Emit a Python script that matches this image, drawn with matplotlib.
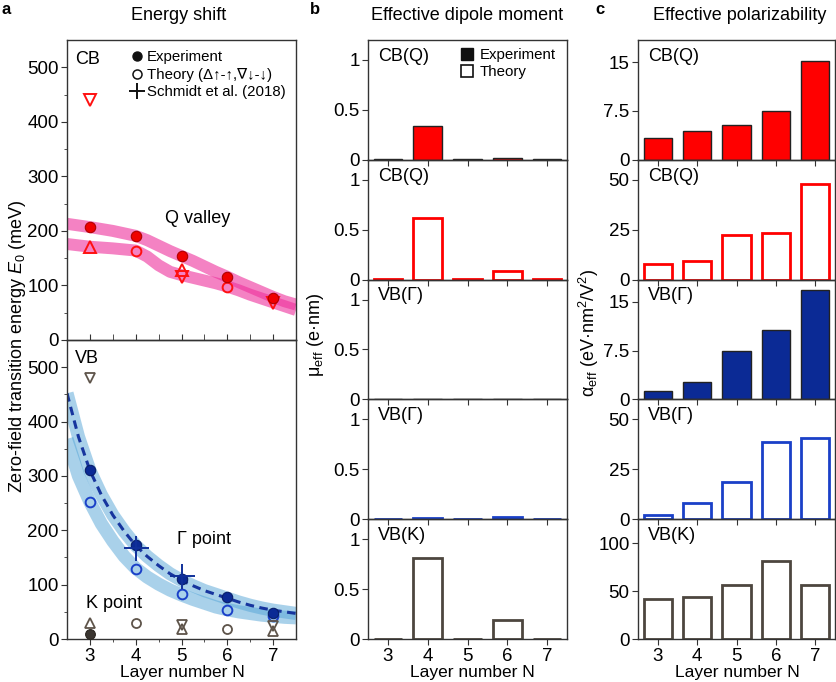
import matplotlib
matplotlib.use('Agg')
import matplotlib.pyplot as plt
from matplotlib.lines import Line2D

plt.rcParams['font.family'] = ['Liberation Sans', 'DejaVu Sans']
plt.rcParams['mathtext.fontset'] = 'custom'
plt.rcParams['mathtext.rm'] = 'Liberation Sans'
plt.rcParams['mathtext.it'] = 'Liberation Sans:italic'
plt.rcParams['mathtext.bf'] = 'Liberation Sans:bold'

# ---------------- data ----------------
layers = [3, 4, 5, 6, 7]

# panel a, conduction band (Q valley)
cb_exp = [207, 190, 154, 116, 77]
cb_th_circ_N = [4, 6]
cb_th_circ = [163, 98]
cb_th_up_N = [3, 5]
cb_th_up = [170, 128]
cb_th_dn_N = [3, 5, 7]
cb_th_dn = [440, 115, 68]
cb_guide_N = [2.5, 3.0, 3.5, 4.0, 4.25, 4.5, 4.75, 5.0, 5.25, 5.5, 5.75, 6.0, 6.25, 6.5, 6.75, 7.0, 7.25, 7.5]
cb_guide_exp = [213, 207, 200, 191, 183, 173, 163, 154, 145, 135, 125, 116, 106, 97, 88, 79, 71, 65]
cb_guide_th = [176, 171, 168, 164, 153, 137, 125, 119, 114, 109, 104, 98, 91, 83, 76, 69, 62, 55]

# panel a, valence band (Gamma point)
vb_exp = [310, 172, 110, 78, 48]
vb_th = [252, 128, 82, 54, 42]
schmidt_N = [4, 5]
schmidt = [168, 116]
vb_guide_N = [2.5, 2.75, 3.0, 3.25, 3.5, 3.75, 4.0, 4.25, 4.5, 4.75, 5.0, 5.25, 5.5, 5.75, 6.0, 6.25, 6.5, 6.75, 7.0, 7.25, 7.5]
vb_guide_exp = [452, 372, 310, 265, 228, 198, 172, 152, 135, 120, 108, 98, 89, 82, 75, 68, 62, 57, 53, 50, 47]
vb_guide_th = [368, 300, 252, 212, 180, 152, 130, 114, 101, 90, 81, 73, 66, 59, 54, 50, 47, 44, 42, 40, 39]

# panel a, valence band (K point)
k_exp_N = [3]
k_exp = [10]
k_circ_N = [4, 6]
k_circ = [30, 19]
k_up_N = [3, 5, 7]
k_up = [29, 18, 15]
k_dn_N = [3, 5, 7]
k_dn = [480, 26, 24]

# panel b: effective dipole moment (e nm)
mu_cbq_exp = [0.005, 0.34, 0.005, 0.02, 0.005]
mu_cbq_th = [0.005, 0.62, 0.005, 0.09, 0.005]
mu_vbg_exp = [0.004, 0.004, 0.004, 0.004, 0.004]
mu_vbg_th = [0.005, 0.015, 0.005, 0.025, 0.005]
mu_vbk_th = [0.005, 0.81, 0.005, 0.19, 0.005]

# panel c: effective polarizability (eV nm^2/V^2)
al_cbq_exp = [3.4, 4.5, 5.3, 7.5, 15.2]
al_cbq_th = [8.0, 9.5, 22.5, 23.5, 48.0]
al_vbg_exp = [1.3, 2.7, 7.4, 10.6, 16.8]
al_vbg_th = [2.0, 8.0, 18.5, 38.5, 40.5]
al_vbk_th = [42, 44, 56, 81, 56]

# ---------------- styling ----------------
RED = '#ff0000'
NAVY = '#0b2a95'
BLUE = '#1a40c8'
KCOL = '#5e544a'
SPINE = '#333333'
TICK_FS = 13.5
LAB_FS = 13
XLAB_FS = 12.5
TXT_FS = 13
XPAD = 2.2

W, H = 836, 682
fig = plt.figure(figsize=(W / 100, H / 100), dpi=100)


def rect(l, t, w, h):
    return [l / W, 1 - (t + h) / H, w / W, h / H]


def style_axes(ax):
    ax.patch.set_visible(False)
    for s in ax.spines.values():
        s.set_color(SPINE)
        s.set_linewidth(1.0)


# ---------------- panel a ----------------
axCB = fig.add_axes(rect(67, 40, 229, 300))
axVB = fig.add_axes(rect(67, 340, 229, 299))
for ax in (axCB, axVB):
    ax.set_xlim(2.5, 7.5)
    ax.set_ylim(0, 550)
    ax.set_yticks([0, 100, 200, 300, 400, 500])
    ax.set_yticks([50, 150, 250, 350, 450], minor=True)
    ax.set_xticks(layers)
    ax.set_xticks([3.5, 4.5, 5.5, 6.5], minor=True)
    ax.tick_params(axis='y', which='major', direction='out', length=4, labelsize=TICK_FS,
                   color=SPINE, pad=2)
    ax.tick_params(axis='y', which='minor', direction='out', length=2.5, color=SPINE)
    style_axes(ax)

axCB.tick_params(axis='x', which='both', direction='in', length=4, labelbottom=False, color=SPINE)
axVB.tick_params(axis='x', which='major', direction='out', length=4, labelsize=TICK_FS,
                 color=SPINE, pad=XPAD)
axVB.tick_params(axis='x', which='minor', direction='out', length=2.5, color=SPINE)

# CB guides
axCB.plot(cb_guide_N, cb_guide_exp, color='#ee2f9b', alpha=0.6, lw=8.6,
          solid_capstyle='butt', zorder=1)
axCB.plot(cb_guide_N, cb_guide_th, color='#ee2f9b', alpha=0.6, lw=8.6,
          solid_capstyle='butt', zorder=1)
axCB.plot(layers, cb_exp, 'o', ms=7.5, mfc='#f00000', mec='#b00000', mew=0.8, zorder=4)
axCB.plot(cb_th_circ_N, cb_th_circ, 'o', ms=7, mfc='none', mec='#ff1010', mew=1.4, zorder=3)
axCB.plot(cb_th_up_N, cb_th_up, '^', ms=8, mfc='none', mec='#ff1010', mew=1.4, zorder=3)
axCB.plot(cb_th_dn_N, cb_th_dn, 'v', ms=8, mfc='none', mec='#ff1010', mew=1.4, zorder=3)

axCB.text(0.035, 0.965, 'CB', transform=axCB.transAxes, ha='left', va='top', fontsize=TXT_FS)
axCB.text(5.36, 223, 'Q valley', ha='center', va='center', fontsize=TXT_FS)

leg_handles = [
    Line2D([], [], ls='none', marker='o', ms=6.5, mfc='#111111', mec='#111111'),
    Line2D([], [], ls='none', marker='o', ms=6.5, mfc='none', mec='#111111', mew=1.1),
    Line2D([], [], ls='none', marker='+', ms=11, mec='#111111', mew=1.4),
]
leg_labels = ['Experiment', 'Theory (Δ↑-↑,∇↓-↓)', 'Schmidt et al. (2018)']
axCB.legend(leg_handles, leg_labels, loc='upper left', bbox_to_anchor=(0.266, 0.975),
            frameon=False, fontsize=10.8, handlelength=0.8, handletextpad=0.28,
            labelspacing=0.22, borderaxespad=0, borderpad=0.2)

# VB guides
axVB.plot(vb_guide_N, vb_guide_exp, color='#55a5d7', alpha=0.5, lw=9.5,
          solid_capstyle='butt', zorder=1)
axVB.plot(vb_guide_N, vb_guide_th, color='#55a5d7', alpha=0.5, lw=9.5,
          solid_capstyle='butt', zorder=1)
axVB.plot(vb_guide_N, vb_guide_exp, color='#17359e', lw=2.2, ls=(0, (2.8, 1.8)), zorder=2)
axVB.plot(layers, vb_th, 'o', ms=7, mfc='none', mec=BLUE, mew=1.4, zorder=3)
axVB.plot(layers, vb_exp, 'o', ms=7.5, mfc=NAVY, mec='#081e6a', mew=0.8, zorder=4)
axVB.plot(schmidt_N, schmidt, '+', ms=18, mec='#10309a', mew=1.4, zorder=5)

axVB.plot(k_exp_N, k_exp, 'o', ms=7, mfc='#3a3530', mec='#2a2520', mew=0.8, zorder=4)
axVB.plot(k_circ_N, k_circ, 'o', ms=6.5, mfc='none', mec=KCOL, mew=1.3, zorder=3)
axVB.plot(k_up_N, k_up, '^', ms=7.5, mfc='none', mec=KCOL, mew=1.3, zorder=3)
axVB.plot(k_dn_N, k_dn, 'v', ms=7.5, mfc='none', mec=KCOL, mew=1.3, zorder=3)

axVB.text(0.035, 0.965, 'VB', transform=axVB.transAxes, ha='left', va='top', fontsize=TXT_FS)
axVB.text(5.5, 183, 'Γ point', ha='center', va='center', fontsize=TXT_FS)
axVB.text(3.53, 66, 'K point', ha='center', va='center', fontsize=TXT_FS)


# ---------------- panels b and c ----------------
def bar_column(left, width, specs):
    top0 = 40
    h = 599 / 5
    axes = []
    for i, (vals, fc, ec, lw, ymax, yt, ytl, label) in enumerate(specs):
        ax = fig.add_axes(rect(left, top0 + i * h, width, h))
        ax.bar(layers, vals, width=0.72, color=fc, edgecolor=ec, linewidth=lw, zorder=2)
        ax.set_xlim(2.5, 7.5)
        ax.set_ylim(0, ymax)
        ax.set_yticks(yt)
        ax.set_yticklabels(ytl)
        ax.set_xticks(layers)
        ax.tick_params(axis='y', direction='out', length=4, labelsize=TICK_FS, color=SPINE, pad=2)
        last = (i == len(specs) - 1)
        ax.tick_params(axis='x', direction='out', bottom=True, top=False, labelbottom=last,
                       labelsize=TICK_FS, color=SPINE, length=4, pad=XPAD)
        style_axes(ax)
        ax.text(0.05, 0.935, label, transform=ax.transAxes, ha='left', va='top', fontsize=TXT_FS)
        axes.append(ax)
    return axes


mu_t = [0, 0.5, 1]
mu_tl = ['0', '0.5', '1']
b_specs = [
    (mu_cbq_exp, RED, '#222222', 1.0, 1.2, mu_t, mu_tl, 'CB(Q)'),
    (mu_cbq_th, 'white', RED, 2.0, 1.2, mu_t, mu_tl, 'CB(Q)'),
    (mu_vbg_exp, NAVY, '#222222', 1.0, 1.2, mu_t, mu_tl, 'VB(Γ)'),
    (mu_vbg_th, 'white', BLUE, 2.0, 1.2, mu_t, mu_tl, 'VB(Γ)'),
    (mu_vbk_th, 'white', '#4d463f', 2.0, 1.2, mu_t, mu_tl, 'VB(K)'),
]
axb = bar_column(368, 199, b_specs)

c_specs = [
    (al_cbq_exp, RED, '#222222', 1.0, 18.4, [0, 7.5, 15], ['0', '7.5', '15'], 'CB(Q)'),
    (al_cbq_th, 'white', RED, 2.0, 60, [0, 25, 50], ['0', '25', '50'], 'CB(Q)'),
    (al_vbg_exp, NAVY, '#222222', 1.0, 18.4, [0, 7.5, 15], ['0', '7.5', '15'], 'VB(Γ)'),
    (al_vbg_th, 'white', BLUE, 2.0, 60, [0, 25, 50], ['0', '25', '50'], 'VB(Γ)'),
    (al_vbk_th, 'white', '#4d463f', 2.0, 125, [0, 50, 100], ['0', '50', '100'], 'VB(K)'),
]
axc = bar_column(638, 197, c_specs)

b_handles = [
    Line2D([], [], ls='none', marker='s', ms=9, mfc='#111111', mec='#111111'),
    Line2D([], [], ls='none', marker='s', ms=9, mfc='white', mec='#111111', mew=1.2),
]
axb[0].legend(b_handles, ['Experiment', 'Theory'], loc='upper left', bbox_to_anchor=(0.45, 0.96),
              frameon=False, fontsize=10.8, handlelength=0.9, handletextpad=0.4,
              labelspacing=0.22, borderaxespad=0, borderpad=0.2)

# ---------------- figure texts ----------------
fig.text(179 / W, 1 - 15 / H, 'Energy shift', ha='center', va='center', fontsize=LAB_FS)
fig.text(467 / W, 1 - 15 / H, 'Effective dipole moment', ha='center', va='center', fontsize=LAB_FS)
fig.text(740 / W, 1 - 15 / H, 'Effective polarizability', ha='center', va='center', fontsize=LAB_FS)
fig.text(2 / W, 1 - 9 / H, 'a', ha='left', va='center', fontsize=12, fontweight='bold')
fig.text(310 / W, 1 - 9 / H, 'b', ha='left', va='center', fontsize=12, fontweight='bold')
fig.text(595 / W, 1 - 9 / H, 'c', ha='left', va='center', fontsize=12, fontweight='bold')

for xc in (182, 472, 737):
    fig.text(xc / W, 1 - 677.5 / H, 'Layer number N', ha='center', va='baseline', fontsize=XLAB_FS)

fig.text(18 / W, 1 - 346 / H, 'Zero-field transition energy $E_0$ (meV)', rotation=90,
         ha='center', va='center', fontsize=LAB_FS)
fig.text(315 / W, 1 - 335 / H, 'μ$_\\mathrm{eff}$ (e·nm)', rotation=90,
         ha='center', va='center', fontsize=LAB_FS)
fig.text(589 / W, 1 - 333 / H, 'α$_\\mathrm{eff}$ (eV·nm$^2$/V$^2$)', rotation=90,
         ha='center', va='center', fontsize=LAB_FS)

fig.savefig('out.png', dpi=100)
